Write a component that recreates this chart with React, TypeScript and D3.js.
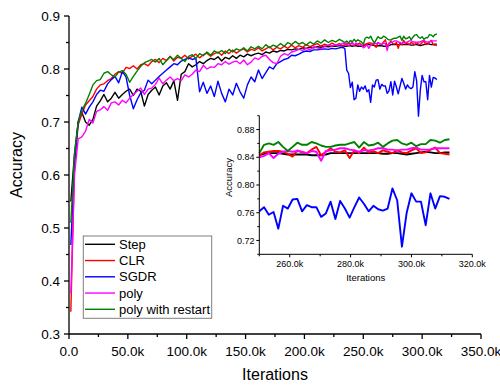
import React from "react";
import * as d3 from "d3";

// ---------- data ----------
const seriesNames = ["Step", "CLR", "SGDR", "poly", "poly with restart"];
const seriesColors = ["#000000", "#ff0000", "#0000ff", "#ff00ff", "#008000"];

// iteration grid: coarse part (every 3125 it.) then fine part (every 1562.5 it.)
const coarseIterations = d3.range(75).map((j) => 1562.5 + 3125 * j);
const fineIterations = d3.range(51).map((m) => 234375 + 1562.5 * m);

const stepCoarse = [
  0.55, 0.64, 0.70, 0.718, 0.70, 0.694, 0.705, 0.73, 0.74, 0.752,
  0.738, 0.745, 0.756, 0.745, 0.752, 0.758, 0.762, 0.75, 0.762, 0.758,
  0.73, 0.752, 0.76, 0.766, 0.751, 0.768, 0.774, 0.762, 0.778, 0.741,
  0.79, 0.795, 0.81, 0.804, 0.808, 0.814, 0.81, 0.816, 0.82, 0.818,
  0.823, 0.815, 0.822, 0.819, 0.825, 0.82, 0.826, 0.823, 0.828, 0.825,
  0.828, 0.83, 0.827, 0.832, 0.83, 0.834, 0.832, 0.835, 0.834, 0.837,
  0.836, 0.838, 0.837, 0.84, 0.839, 0.841, 0.84, 0.842, 0.841, 0.843,
  0.842, 0.843, 0.843, 0.844, 0.844,
];
const stepFine = [
  0.843, 0.843, 0.844, 0.844, 0.843, 0.844, 0.844, 0.843, 0.843, 0.843,
  0.843, 0.845, 0.846, 0.846, 0.846, 0.845, 0.844, 0.844, 0.844, 0.844,
  0.844, 0.843, 0.843, 0.843, 0.844, 0.846, 0.846, 0.846, 0.846, 0.846,
  0.846, 0.846, 0.846, 0.846, 0.846, 0.846, 0.845, 0.845, 0.846, 0.846,
  0.845, 0.844, 0.845, 0.846, 0.847, 0.848, 0.847, 0.846, 0.846, 0.847,
  0.847,
];

const clrCoarse = [
  0.342, 0.62, 0.695, 0.715, 0.732, 0.74, 0.748, 0.762, 0.77, 0.772,
  0.778, 0.782, 0.79, 0.795, 0.792, 0.803, 0.801, 0.806, 0.8, 0.808,
  0.81, 0.806, 0.814, 0.818, 0.812, 0.82, 0.816, 0.824, 0.815, 0.822,
  0.82, 0.826, 0.819, 0.824, 0.828, 0.821, 0.827, 0.83, 0.824, 0.829,
  0.832, 0.826, 0.834, 0.829, 0.836, 0.83, 0.835, 0.838, 0.832, 0.837,
  0.835, 0.84, 0.834, 0.838, 0.842, 0.836, 0.841, 0.838, 0.843, 0.839,
  0.845, 0.84, 0.844, 0.841, 0.846, 0.842, 0.845, 0.848, 0.843, 0.847,
  0.844, 0.849, 0.845, 0.848, 0.843,
];
const clrFine = [
  0.848, 0.845, 0.849, 0.846, 0.85, 0.844, 0.848, 0.846, 0.849, 0.845,
  0.843, 0.847, 0.848, 0.849, 0.849, 0.848, 0.845, 0.841, 0.85, 0.847,
  0.846, 0.851, 0.855, 0.843, 0.848, 0.853, 0.848, 0.847, 0.85, 0.839,
  0.85, 0.846, 0.854, 0.847, 0.849, 0.846, 0.85, 0.848, 0.846, 0.85,
  0.847, 0.846, 0.85, 0.853, 0.846, 0.847, 0.851, 0.854, 0.846, 0.845,
  0.844,
];

const sgdrCoarse = [
  0.468, 0.622, 0.70, 0.728, 0.715, 0.728, 0.738, 0.752, 0.76, 0.758,
  0.772, 0.78, 0.786, 0.774, 0.795, 0.785, 0.75, 0.725, 0.742, 0.755,
  0.76, 0.779, 0.772, 0.779, 0.786, 0.792, 0.798, 0.804, 0.81, 0.808,
  0.815, 0.818, 0.821, 0.818, 0.82, 0.757, 0.775, 0.754, 0.768, 0.748,
  0.777, 0.754, 0.738, 0.762, 0.751, 0.773, 0.757, 0.745, 0.77, 0.785,
  0.776, 0.798, 0.782, 0.793, 0.804, 0.8, 0.81, 0.814, 0.818, 0.82,
  0.826, 0.825, 0.828, 0.832, 0.834, 0.833, 0.836, 0.836, 0.837, 0.838,
  0.837, 0.839, 0.838, 0.84, 0.841,
];
const sgdrFine = [
  0.838, 0.798, 0.792, 0.765, 0.775, 0.742, 0.745, 0.77, 0.758, 0.766,
  0.762, 0.768, 0.757, 0.761, 0.737, 0.77, 0.766, 0.779, 0.78, 0.762,
  0.771, 0.768, 0.768, 0.754, 0.759, 0.776, 0.751, 0.777, 0.766, 0.753,
  0.768, 0.782, 0.773, 0.762, 0.77, 0.765, 0.763, 0.766, 0.795, 0.778,
  0.711, 0.76, 0.788, 0.776, 0.776, 0.742, 0.788, 0.766, 0.784, 0.783,
  0.78,
];

const polyCoarse = [
  0.377, 0.60, 0.668, 0.672, 0.683, 0.705, 0.698, 0.72, 0.723, 0.729,
  0.722, 0.736, 0.738, 0.732, 0.741, 0.736, 0.745, 0.752, 0.758, 0.764,
  0.752, 0.762, 0.764, 0.771, 0.783, 0.772, 0.779, 0.785, 0.778, 0.782,
  0.778, 0.789, 0.785, 0.79, 0.798, 0.795, 0.807, 0.8, 0.804, 0.803,
  0.81, 0.808, 0.814, 0.809, 0.813, 0.815, 0.81, 0.817, 0.808, 0.813,
  0.821, 0.818, 0.824, 0.826, 0.818, 0.812, 0.81, 0.824, 0.829, 0.826,
  0.832, 0.834, 0.837, 0.835, 0.839, 0.836, 0.842, 0.84, 0.838, 0.843,
  0.845, 0.843, 0.846, 0.845, 0.849,
];
const polyFine = [
  0.846, 0.849, 0.843, 0.848, 0.85, 0.845, 0.849, 0.847, 0.844, 0.846,
  0.84, 0.842, 0.846, 0.839, 0.845, 0.848, 0.849, 0.848, 0.849, 0.848,
  0.846, 0.849, 0.848, 0.835, 0.849, 0.85, 0.851, 0.853, 0.853, 0.851,
  0.85, 0.848, 0.85, 0.85, 0.851, 0.853, 0.853, 0.851, 0.851, 0.85,
  0.851, 0.851, 0.853, 0.854, 0.851, 0.851, 0.851, 0.853, 0.853, 0.853,
  0.853,
];

const restartCoarse = [
  0.51, 0.64, 0.70, 0.722, 0.735, 0.752, 0.77, 0.778, 0.78, 0.792,
  0.795, 0.789, 0.785, 0.794, 0.797, 0.79, 0.775, 0.786, 0.796, 0.805,
  0.812, 0.815, 0.818, 0.813, 0.82, 0.808, 0.816, 0.823, 0.818, 0.826,
  0.82, 0.814, 0.824, 0.827, 0.82, 0.829, 0.825, 0.832, 0.826, 0.834,
  0.83, 0.835, 0.829, 0.837, 0.832, 0.838, 0.835, 0.84, 0.834, 0.842,
  0.838, 0.843, 0.838, 0.846, 0.84, 0.845, 0.842, 0.848, 0.843, 0.85,
  0.846, 0.852, 0.847, 0.85, 0.845, 0.851, 0.847, 0.853, 0.849, 0.855,
  0.85, 0.854, 0.851, 0.856, 0.852,
];
const restartFine = [
  0.85, 0.853, 0.849, 0.854, 0.851, 0.856, 0.852, 0.855, 0.853, 0.851,
  0.846, 0.858, 0.86, 0.858, 0.862, 0.855, 0.849, 0.855, 0.861, 0.858,
  0.858, 0.862, 0.86, 0.857, 0.855, 0.855, 0.857, 0.858, 0.858, 0.86,
  0.862, 0.854, 0.862, 0.857, 0.858, 0.861, 0.855, 0.86, 0.864, 0.865,
  0.86, 0.858, 0.861, 0.856, 0.859, 0.859, 0.865, 0.864, 0.861, 0.865,
  0.866,
];

const mainXTicks = [0, 50000, 100000, 150000, 200000, 250000, 300000, 350000];
const mainYTicks = [0.3, 0.4, 0.5, 0.6, 0.7, 0.8, 0.9];
const insetXTicks = [260000, 280000, 300000, 320000];
const insetYTicks = [0.72, 0.76, 0.8, 0.84, 0.88];

const seriesCoarse = [stepCoarse, clrCoarse, sgdrCoarse, polyCoarse, restartCoarse];
const seriesFine = [stepFine, clrFine, sgdrFine, polyFine, restartFine];

// ---------- chart ----------
type Pt = { it: number; acc: number };

const FONT = "'Liberation Sans', Arial, Helvetica, sans-serif";

function fmtK(d: number) {
  return d === 0 ? "0.0" : (d / 1000).toFixed(1) + "k";
}

export default function App() {
  const series: Pt[][] = seriesNames.map((_, i) => [
    ...coarseIterations.map((it, j) => ({ it, acc: seriesCoarse[i][j] })),
    ...fineIterations.map((it, m) => ({ it, acc: seriesFine[i][m] })),
  ]);

  // main scales
  const x = d3.scaleLinear().domain([0, 350000]).range([69, 481]);
  const y = d3.scaleLinear().domain([0.3, 0.9]).range([334, 16]);
  const line = d3
    .line<Pt>()
    .x((d) => x(d.it))
    .y((d) => y(d.acc));

  // inset scales
  const ix = d3.scaleLinear().domain([250000, 320000]).range([259.3, 472.3]);
  const iy = d3.scaleLinear().domain([0.7, 0.9]).range([254.3, 115.7]);
  const iline = d3
    .line<Pt>()
    .x((d) => ix(d.it))
    .y((d) => iy(d.acc));

  const xMinor = d3.range(25000, 350000, 50000);
  const yMinor = d3.range(0.35, 0.9, 0.1);
  const ixMinor = [250000, 270000, 290000, 310000];
  const iyMinor = [0.7, 0.74, 0.78, 0.82, 0.86, 0.9];

  const legendY0 = 244.3;
  const legendDY = 16.25;

  return (
    <svg
      width={500}
      height={385}
      style={{ position: "absolute", left: 0, top: 0, background: "#fff" }}
      fontFamily={FONT}
    >
      <rect x={0} y={0} width={500} height={385} fill="#fff" />

      {/* main series */}
      <g fill="none" strokeWidth={1.4} strokeLinejoin="round">
        {series.map((s, i) => (
          <path key={i} d={line(s) || ""} stroke={seriesColors[i]} />
        ))}
      </g>

      {/* main axes */}
      <g stroke="#000" strokeWidth={1.3}>
        <line x1={x(0)} x2={x(350000)} y1={y(0.3)} y2={y(0.3)} />
        <line x1={x(0)} x2={x(0)} y1={y(0.3)} y2={y(0.9)} />
        {mainXTicks.map((t) => (
          <line key={"xt" + t} x1={x(t)} x2={x(t)} y1={y(0.3)} y2={y(0.3) + 5} />
        ))}
        {xMinor.map((t) => (
          <line key={"xm" + t} x1={x(t)} x2={x(t)} y1={y(0.3)} y2={y(0.3) + 3} />
        ))}
        {mainYTicks.map((t) => (
          <line key={"yt" + t} x1={x(0) - 5} x2={x(0)} y1={y(t)} y2={y(t)} />
        ))}
        {yMinor.map((t) => (
          <line key={"ym" + t} x1={x(0) - 3} x2={x(0)} y1={y(t)} y2={y(t)} />
        ))}
      </g>
      <g fontSize={13.5} fill="#000">
        {mainXTicks.map((t) => (
          <text key={"xl" + t} x={x(t)} y={355.5} textAnchor="middle">
            {fmtK(t)}
          </text>
        ))}
        {mainYTicks.map((t) => (
          <text key={"yl" + t} x={60} y={y(t)} dy="0.35em" textAnchor="end">
            {t.toFixed(1)}
          </text>
        ))}
      </g>
      <text x={275} y={380} fontSize={16} textAnchor="middle">
        Iterations
      </text>
      <text
        transform="translate(22,165) rotate(-90)"
        fontSize={16}
        textAnchor="middle"
      >
        Accuracy
      </text>

      {/* legend */}
      <rect x={83.3} y={236} width={128.4} height={82.3} fill="#fff" stroke="#7f7f7f" strokeWidth={1} />
      {seriesNames.map((n, i) => (
        <g key={n}>
          <line
            x1={85}
            x2={115}
            y1={legendY0 + i * legendDY}
            y2={legendY0 + i * legendDY}
            stroke={seriesColors[i]}
            strokeWidth={1.4}
          />
          <text x={119} y={legendY0 + i * legendDY} dy="0.36em" fontSize={13}>
            {n}
          </text>
        </g>
      ))}

      {/* inset */}
      <g fill="none" strokeWidth={1.9} strokeLinejoin="round">
        {series.map((s, i) => (
          <path
            key={i}
            d={iline(s.filter((p) => p.it >= 250000)) || ""}
            stroke={seriesColors[i]}
          />
        ))}
      </g>
      <g stroke="#000" strokeWidth={1}>
        <line x1={ix(250000)} x2={ix(320000)} y1={iy(0.7)} y2={iy(0.7)} />
        <line x1={ix(250000)} x2={ix(250000)} y1={iy(0.7)} y2={iy(0.9)} />
        {insetXTicks.map((t) => (
          <line key={"ixt" + t} x1={ix(t)} x2={ix(t)} y1={iy(0.7)} y2={iy(0.7) + 3} />
        ))}
        {ixMinor.map((t) => (
          <line key={"ixm" + t} x1={ix(t)} x2={ix(t)} y1={iy(0.7)} y2={iy(0.7) + 2} />
        ))}
        {insetYTicks.map((t) => (
          <line key={"iyt" + t} x1={ix(250000) - 3} x2={ix(250000)} y1={iy(t)} y2={iy(t)} />
        ))}
        {iyMinor.map((t) => (
          <line key={"iym" + t} x1={ix(250000) - 2} x2={ix(250000)} y1={iy(t)} y2={iy(t)} />
        ))}
      </g>
      <g fontSize={9} fill="#000">
        {insetXTicks.map((t) => (
          <text key={"ixl" + t} x={ix(t)} y={267} textAnchor="middle">
            {fmtK(t)}
          </text>
        ))}
        {insetYTicks.map((t) => (
          <text key={"iyl" + t} x={254.5} y={iy(t)} dy="0.35em" textAnchor="end">
            {t.toFixed(2)}
          </text>
        ))}
      </g>
      <text x={365.7} y={281} fontSize={9.5} textAnchor="middle">
        Iterations
      </text>
      <text
        transform="translate(231.5,177.5) rotate(-90)"
        fontSize={9.5}
        textAnchor="middle"
      >
        Accuracy
      </text>
    </svg>
  );
}
